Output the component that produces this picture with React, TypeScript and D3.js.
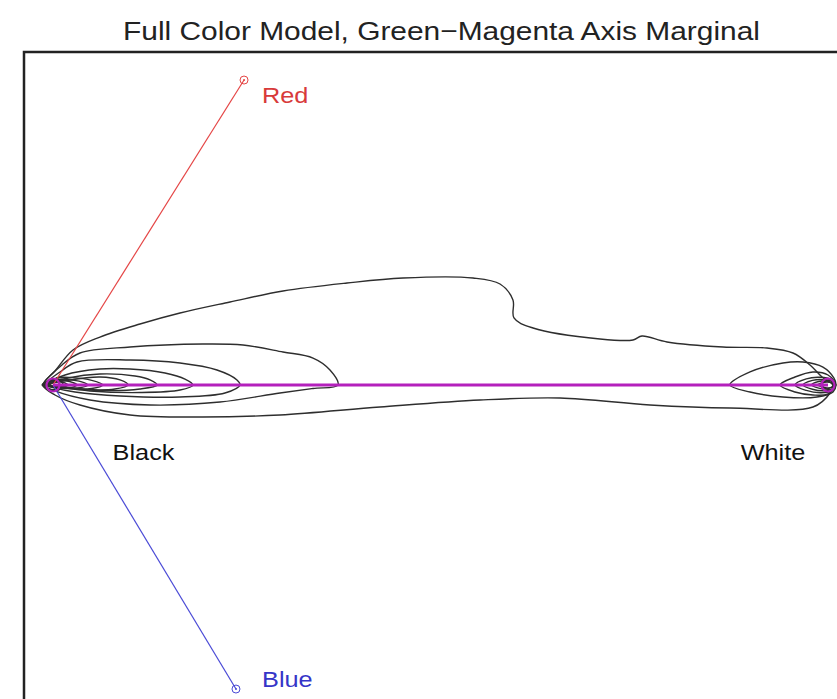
import React from "react";
import * as d3 from "d3";

// ---------- data ----------
const titleText = "Full Color Model, Green\u2212Magenta Axis Marginal";

// anchor points in the projected plane (u along Black→White, v perpendicular)
const anchorNames = ["Black", "White", "Red", "Blue"];
const anchorU = [0, 100, 24.65, 23.61];
const anchorV = [0, 0, 39.35, -39.23];
const labelU = [11.68, 92.9, 26.97, 26.97];
const labelV = [-9.68, -9.68, 36.39, -38.97];
const labelColors = ["#111111", "#111111", "#d83a3a", "#3535c8"];

// contour lines of the marginal density (u, v)
const contourOuter: [number, number][] = [
  [-1.3, 0], [0.26, 1.81], [2.58, 4.52], [6.06, 6.19], [11.23, 7.87], [16.39, 9.29],
  [22.84, 10.71], [29.68, 12.13], [37.94, 13.16], [45.16, 13.81], [54.19, 13.81],
  [57.68, 13.03], [59.35, 10.97], [59.48, 8.65], [61.94, 7.35], [70.58, 5.94],
  [74.84, 5.81], [76.0, 6.32], [79.23, 5.55], [86.45, 4.9], [92.13, 4.77],
  [95.48, 4.13], [97.68, 2.58], [99.23, 1.03], [100.6, 0], [100.26, -1.03],
  [98.06, -2.84], [87.35, -2.97], [77.03, -2.58], [65.42, -1.68], [55.1, -1.94],
  [42.19, -2.84], [29.29, -3.87], [18.97, -4.13], [9.94, -3.87], [3.48, -2.58], [0.26, -1.29],
];
const contourL2: [number, number][] = [
  [-1.2, 0], [1.16, 2.58], [3.48, 4.13], [9.94, 4.9], [19.35, 5.29], [24.52, 5.16],
  [29.68, 4.26], [33.55, 3.48], [35.74, 1.94], [36.77, 0], [33.55, -0.45],
  [29.29, -1.03], [21.55, -2.2], [12.52, -2.58], [4.77, -1.94], [0.26, -0.77],
];
const contourL3: [number, number][] = [
  [-1.1, 0], [0.9, 1.68], [3.1, 2.97], [9.94, 3.23], [16.39, 2.84], [21.16, 1.94],
  [23.74, 0.65], [24.13, 0], [22.19, -1.03], [16.39, -1.55], [8.65, -1.42],
  [2.84, -0.9], [-0.13, -0.3],
];
const contourL4: [number, number][] = [
  [-1.0, 0], [1.55, 1.29], [6.06, 2.06], [9.94, 2.06], [14.45, 1.55], [17.03, 0.77],
  [18.06, 0], [16.39, -0.65], [11.23, -0.97], [4.77, -0.77], [0.9, -0.3],
];
const contourL5: [number, number][] = [
  [-0.9, 0], [1.94, 0.9], [6.06, 1.42], [10.58, 1.16], [12.52, 0.65], [13.42, 0],
  [11.23, -0.52], [6.06, -0.71], [1.55, -0.3],
];
const contourL6: [number, number][] = [
  [-0.8, 0], [2.19, 0.65], [6.06, 1.03], [8.65, 0.65], [9.68, 0], [8.0, -0.52],
  [4.13, -0.58], [1.55, -0.26],
];
const contourL7: [number, number][] = [
  [-0.7, 0], [0.5, 0.9], [2.5, 0.95], [5.0, 0.6], [6.45, 0], [5.0, -0.45], [2.5, -0.5], [0.4, -0.3],
];
const contourL8: [number, number][] = [
  [-0.6, 0], [0.5, 0.7], [2.0, 0.7], [3.7, 0.4], [4.5, 0], [3.5, -0.35], [1.8, -0.4], [0.3, -0.25],
];
const contourL9: [number, number][] = [
  [-0.5, 0], [0.4, 0.55], [1.6, 0.55], [2.6, 0.3], [3.1, 0], [2.4, -0.3], [1.2, -0.3], [0.2, -0.2],
];
const contourL10: [number, number][] = [
  [-0.4, 0], [0.3, 0.4], [1.2, 0.35], [1.9, 0], [1.2, -0.25], [0.2, -0.15],
];
const contourL11: [number, number][] = [
  [-1.35, 0], [-0.6, 0.55], [0.2, 0.8], [1.0, 0.5], [1.3, 0], [1.0, -0.5], [0.2, -0.75], [-0.6, -0.5],
];
const contourL12: [number, number][] = [
  [-1.4, 0], [-0.7, 0.45], [0.0, 0.6], [0.7, 0.35], [0.9, 0], [0.7, -0.35], [0.0, -0.6], [-0.7, -0.4],
];
const contourR1: [number, number][] = [
  [87.35, 0], [89.94, 1.68], [94.19, 2.84], [96.77, 2.97], [99.35, 2.32], [100.77, 0.9],
  [101.03, 0], [100.65, -0.9], [98.58, -1.55], [94.19, -1.55], [89.94, -0.9],
];
const contourR2: [number, number][] = [
  [93.81, 0], [95.74, 1.03], [98.06, 1.68], [100, 1.29], [101.0, 0], [100, -1.16],
  [98.06, -1.29], [95.74, -0.9],
];
const contourR3: [number, number][] = [
  [95.74, 0], [97.2, 0.8], [99.0, 1.0], [100.4, 0.7], [100.9, 0], [100.4, -0.8], [99, -1.0], [97.2, -0.7],
];
const contourR4: [number, number][] = [
  [96.77, 0], [98.0, 0.6], [99.4, 0.7], [100.5, 0.45], [100.85, 0], [100.5, -0.55], [99.4, -0.75], [98.0, -0.55],
];
const contourR5: [number, number][] = [
  [97.9, 0], [98.8, 0.45], [99.9, 0.5], [100.8, 0], [99.9, -0.5], [98.8, -0.4],
];
const contourR6: [number, number][] = [
  [98.7, 0], [99.5, 0.35], [100.4, 0.3], [100.75, 0], [100.4, -0.35], [99.5, -0.3],
];
const contourR7: [number, number][] = [
  [99.2, 0], [99.8, 0.55], [100.5, 0.6], [101.0, 0], [100.5, -0.6], [99.8, -0.5],
];

const contours = [
  contourOuter, contourL2, contourL3, contourL4, contourL5, contourL6, contourL7,
  contourL8, contourL9, contourL10, contourL11, contourL12, contourR1, contourR2,
  contourR3, contourR4, contourR5, contourR6, contourR7,
];

// ---------- layout ----------
const W = 837;
const H = 699;
const FONT = "'Liberation Sans', Arial, Helvetica, sans-serif";
const STRETCH = 1.15;

export default function App() {
  const x = d3.scaleLinear().domain([0, 100]).range([53, 828]);
  const y = d3.scaleLinear().domain([0, 10]).range([385, 307.5]);
  const line = d3
    .line<[number, number]>()
    .x((d) => x(d[0]))
    .y((d) => y(d[1]))
    .curve(d3.curveCatmullRomClosed.alpha(0.5));

  const bx = x(anchorU[0]), by = y(anchorV[0]);
  const wx = x(anchorU[1]), wy = y(anchorV[1]);
  const rx = x(anchorU[2]), ry = y(anchorV[2]);
  const blx = x(anchorU[3]), bly = y(anchorV[3]);

  return (
    <svg
      width={W}
      height={H}
      style={{ position: "absolute", left: 0, top: 0, background: "#fff" }}
    >
      <rect x={0} y={0} width={W} height={H} fill="#fff" />
      <text
        transform={`translate(${W / 2 + 23},40) scale(${STRETCH},1)`}
        textAnchor="middle"
        fontFamily={FONT}
        fontSize={26}
        fill="#222"
      >
        {titleText}
      </text>
      <rect x={24} y={52} width={900} height={800} fill="none" stroke="#222" strokeWidth={2.5} />

      {/* contours */}
      <g fill="none" stroke="#2e2e2e" strokeWidth={1.4} strokeLinejoin="round">
        {contours.map((c, i) => (
          <path key={i} d={line(c) || ""} />
        ))}
      </g>

      {/* axes to Red and Blue */}
      <line x1={bx} y1={by} x2={rx} y2={ry} stroke="#e54545" strokeWidth={1.2} />
      <line x1={bx} y1={by} x2={blx} y2={bly} stroke="#4a4ad6" strokeWidth={1.2} />
      {/* Black–White axis */}
      <line x1={bx} y1={by} x2={wx} y2={wy} stroke="#b420bc" strokeWidth={3} />

      {/* markers */}
      <circle cx={rx} cy={ry} r={4} fill="none" stroke="#e54545" strokeWidth={1} />
      <circle cx={rx} cy={ry} r={1} fill="#e54545" />
      <circle cx={blx} cy={bly} r={4} fill="none" stroke="#4a4ad6" strokeWidth={1} />
      <circle cx={blx} cy={bly} r={1} fill="#4a4ad6" />
      <circle cx={bx} cy={by} r={6.5} fill="none" stroke="#b420bc" strokeWidth={2.2} />
      <circle cx={wx} cy={wy} r={6.5} fill="none" stroke="#b420bc" strokeWidth={2.2} />

      {/* labels */}
      {anchorNames.map((n, i) => (
        <text
          key={n}
          transform={`translate(${x(labelU[i])},${y(labelV[i])}) scale(${STRETCH},1)`}
          textAnchor={i < 2 ? "middle" : "start"}
          fontFamily={FONT}
          fontSize={22}
          fill={labelColors[i]}
        >
          {n}
        </text>
      ))}
    </svg>
  );
}
